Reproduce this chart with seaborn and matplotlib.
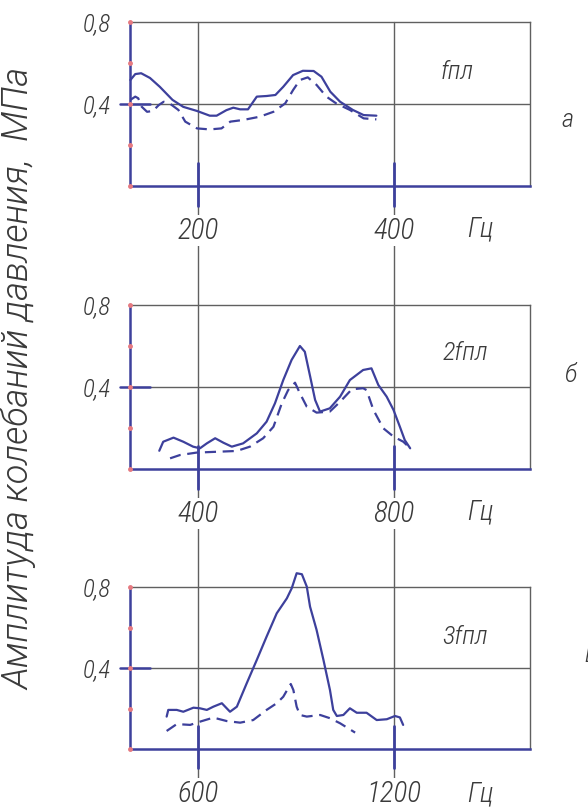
import numpy as np
import pandas as pd
import matplotlib.pyplot as plt
import seaborn as sns
from matplotlib.lines import Line2D

sns.set_style("white")
plt.rcParams['font.family'] = ['Roboto Condensed', 'DejaVu Sans']
plt.rcParams['font.style'] = 'italic'
plt.rcParams['font.weight'] = 300

BLUE = '#3d409c'
GRID = '#606060'
TXT = '#3a3a3a'
RED = '#e77a80'

# panel a : fundamental (f пл)
a_solid_hz = [131, 136, 142, 151, 161, 174, 185, 199, 212, 219, 229, 236, 243, 251, 260, 270, 279,
              287, 297, 307, 318, 326, 335, 345, 358, 369, 382]
a_solid_amp = [0.517, 0.546, 0.55, 0.527, 0.484, 0.42, 0.386, 0.366, 0.343, 0.343, 0.37, 0.382, 0.374,
               0.374, 0.436, 0.439, 0.444, 0.484, 0.541, 0.562, 0.561, 0.533, 0.46, 0.411, 0.371, 0.346, 0.343]
a_dash_hz = [131, 136, 139, 142.5, 148, 154, 160, 165, 171, 180, 187, 199, 212, 224, 233, 246, 263, 277,
             289, 297, 304, 312, 321, 331, 341, 355, 369, 382]
a_dash_amp = [0.42, 0.436, 0.428, 0.387, 0.362, 0.366, 0.395, 0.411, 0.403, 0.371, 0.314, 0.281, 0.276,
              0.281, 0.314, 0.322, 0.338, 0.362, 0.403, 0.468, 0.517, 0.53, 0.493, 0.436, 0.403, 0.371, 0.33, 0.325]

# panel б : second harmonic (2f пл)
b_solid_hz = [321, 329, 350, 370, 390, 404, 418, 435, 452, 469, 492, 520, 540, 557, 574, 591, 608, 618,
              629, 639, 649, 669, 690, 710, 737, 754, 768, 785, 799, 812, 822, 833]
b_solid_amp = [0.089, 0.133, 0.153, 0.133, 0.109, 0.101, 0.125, 0.150, 0.128, 0.109, 0.125, 0.174, 0.231,
               0.320, 0.434, 0.532, 0.600, 0.572, 0.45, 0.337, 0.280, 0.296, 0.353, 0.434, 0.483, 0.491,
               0.410, 0.353, 0.288, 0.206, 0.141, 0.101]
b_dash_hz = [343, 363, 397, 438, 479, 506, 533, 554, 571, 584, 598, 608, 622, 642, 669, 690, 714, 737,
             744, 758, 778, 799, 819, 833]
b_dash_amp = [0.052, 0.068, 0.080, 0.084, 0.088, 0.109, 0.150, 0.206, 0.320, 0.385, 0.421, 0.369, 0.304,
              0.275, 0.280, 0.328, 0.389, 0.394, 0.385, 0.288, 0.199, 0.158, 0.133, 0.101]

# panel в : third harmonic (3f пл)
c_solid_hz = [504, 509, 535, 555, 586, 606, 627, 647, 673, 698, 719, 749, 780, 810, 841, 872, 887, 902,
              918, 933, 943, 963, 984, 1004, 1014, 1025, 1045, 1065, 1086, 1116, 1147, 1178, 1203, 1218, 1228]
c_solid_amp = [0.160, 0.193, 0.193, 0.184, 0.204, 0.201, 0.193, 0.209, 0.226, 0.184, 0.209, 0.324, 0.44,
               0.555, 0.670, 0.744, 0.794, 0.868, 0.863, 0.802, 0.703, 0.588, 0.44, 0.291, 0.193, 0.163,
               0.168, 0.201, 0.179, 0.179, 0.143, 0.147, 0.163, 0.156, 0.119]
c_dash_hz = [504, 535, 576, 606, 647, 688, 729, 769, 810, 841, 861, 876, 884, 892, 902, 912, 933, 974,
             1004, 1035, 1081]
c_dash_amp = [0.089, 0.123, 0.119, 0.135, 0.155, 0.138, 0.130, 0.143, 0.193, 0.226, 0.258, 0.30, 0.321,
              0.291, 0.209, 0.168, 0.160, 0.168, 0.152, 0.127, 0.081]

tick_sets = [[200, 400], [400, 800], [600, 1200]]
tags = ['fпл', '2fпл', '3fпл']
letters = ['а', 'б', 'в']
ylabel = 'Амплитуда колебаний давления,  МПа'

W, H = 588, 807
fig = plt.figure(figsize=(W / 100, H / 100), dpi=100)


def rect(x, y, w, h):
    return [x / W, 1 - (y + h) / H, w / W, h / H]


panel_tops = [22, 305, 587]
panel_h = [164, 164, 162]
letter_pos = [(568, 120), (570, 375), (591, 655)]
tag_pos = [(457, 72), (465, 353), (465, 637)]
series = [(a_solid_hz, a_solid_amp, a_dash_hz, a_dash_amp),
          (b_solid_hz, b_solid_amp, b_dash_hz, b_dash_amp),
          (c_solid_hz, c_solid_amp, c_dash_hz, c_dash_amp)]

# long vertical grid lines through all panels
for gx in [198, 394]:
    fig.add_artist(Line2D([gx / W, gx / W], [1 - 22 / H, 0], transform=fig.transFigure,
                          color=GRID, lw=1, zorder=0))

for i in range(3):
    top, h = panel_tops[i], panel_h[i]
    ax = fig.add_axes(rect(130, top, 400, h))
    ax.patch.set_alpha(0)
    t0, t1 = tick_sets[i]
    step = (t1 - t0) / 196
    ax.set_xlim(t0 - 68 * step, t0 + 332 * step)
    ax.set_ylim(0, 0.8)

    sh, sa, dh, da = series[i]
    solid = pd.DataFrame({'hz': sh, 'amp': sa})
    dash = pd.DataFrame({'hz': dh, 'amp': da})
    sns.lineplot(data=solid, x='hz', y='amp', ax=ax, color=BLUE, lw=1.6, clip_on=False,
                 estimator=None, zorder=5)
    sns.lineplot(data=dash, x='hz', y='amp', ax=ax, color=BLUE, lw=1.6, clip_on=False,
                 estimator=None, linestyle=(0, (5, 3)), zorder=5)

    # frame
    for s in ['top', 'right']:
        ax.spines[s].set_color(GRID)
        ax.spines[s].set_linewidth(1)
    for s in ['left', 'bottom']:
        ax.spines[s].set_color(BLUE)
        ax.spines[s].set_linewidth(1.8)
    ax.axhline(0.4, color=GRID, lw=1, zorder=1)
    ytr = ax.get_yaxis_transform()
    xtr = ax.get_xaxis_transform()
    ax.plot([-0.025, 0.05], [0.4, 0.4], color=BLUE, lw=1.8, transform=ytr, clip_on=False)
    ax.plot([0] * 5, [0, 0.2, 0.4, 0.6, 0.8], 'o', ms=2.5, color=RED, transform=ytr,
            clip_on=False, zorder=6)
    for t in [t0, t1]:
        ax.plot([t, t], [0.14, -0.12], color=BLUE, lw=2, transform=xtr, clip_on=False)

    ax.set_xticks([t0, t1])
    ax.set_xticklabels([str(t0), str(t1)])
    ax.set_yticks([0.4, 0.8])
    ax.set_yticklabels(['0,4', '0,8'])
    ax.tick_params(axis='x', length=0, pad=22, labelsize=21, labelcolor=TXT)
    ax.tick_params(axis='y', length=0, pad=14, labelsize=18, labelcolor=TXT)
    for lab in ax.get_xticklabels():
        lab.set_bbox(dict(facecolor='white', edgecolor='none', pad=1))
    ax.set_xlabel('')
    ax.set_ylabel('')
    ax.grid(False)

    fig.text(480 / W, 1 - (top + 207) / H, 'Гц', ha='center', va='center', fontsize=20, color=TXT)
    tx, ty = tag_pos[i]
    fig.text(tx / W, 1 - ty / H, tags[i], ha='center', va='center', fontsize=19, color=TXT)
    lx, ly = letter_pos[i]
    fig.text(lx / W, 1 - ly / H, letters[i], ha='center', va='center', fontsize=19, color=TXT)

fig.text(19 / W, 1 - 379 / H, ylabel, rotation=90, ha='center', va='center', fontsize=26,
         color=TXT, family=['Roboto', 'DejaVu Sans'])

fig.savefig('out.png', dpi=100)
